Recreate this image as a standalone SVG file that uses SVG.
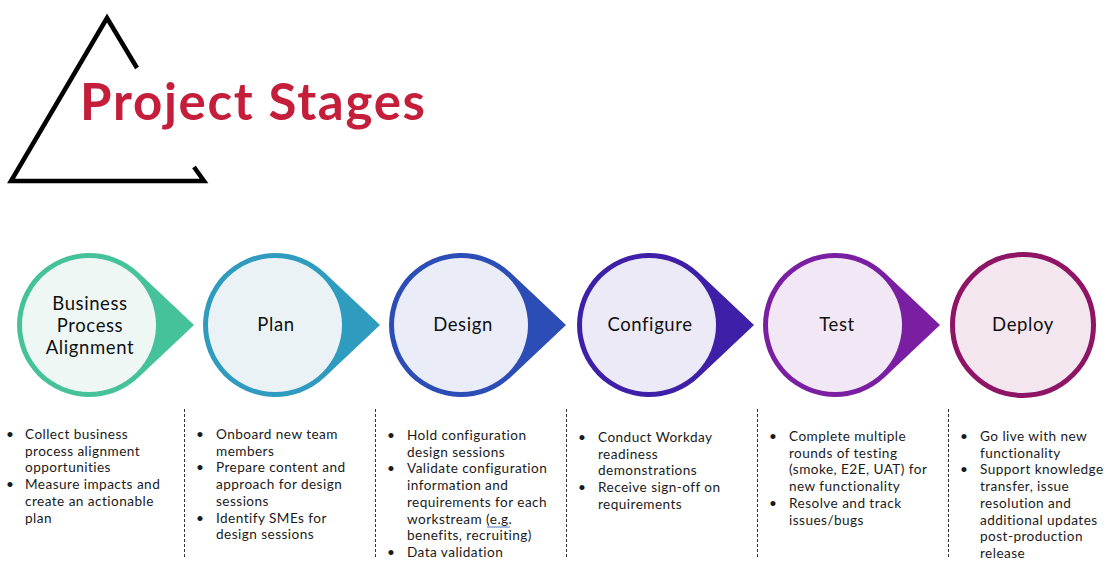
<svg xmlns="http://www.w3.org/2000/svg" width="1119" height="577" viewBox="0 0 1119 577">
<style>
.lbl{font-family:Lato,"Open Sans",sans-serif;font-size:18.5px;fill:#111;text-anchor:middle;letter-spacing:0.6px}
.bt{font-family:Lato,"Open Sans",sans-serif;font-size:13.6px;fill:#1a1a1a;letter-spacing:0.45px}
.div{stroke:#333;stroke-width:1;stroke-dasharray:3 2;fill:none}
.tri{stroke:#000;stroke-width:4.5;fill:none;stroke-linejoin:miter}
</style>
<rect width="1119" height="577" fill="#fff"/>
<g id="title">
<path class="tri" d="M137,68 L107,18 L11,181 L204,181 L194,167"/>
<text x="80" y="120" font-family="Lato,'Open Sans',sans-serif" font-weight="700" font-size="51" fill="#C41E3A" textLength="345" lengthAdjust="spacing">Project Stages</text>
</g>
<g id="connectors"></g>
<g id="node-bpa">
<path d="M138.4,272.6 L194,325 L138.4,377.4 A72 72 0 1 1 138.4,272.6 Z" fill="#45C29A"/>
<circle cx="89" cy="325" r="67" fill="#EEF7F4"/>
<text class="lbl" x="90" y="310">Business</text>
<text class="lbl" x="90" y="332">Process</text>
<text class="lbl" x="90" y="354">Alignment</text>
</g>
<g id="node-plan">
<path d="M324.4,272.6 L380,325 L324.4,377.4 A72 72 0 1 1 324.4,272.6 Z" fill="#2E9BBF"/>
<circle cx="275" cy="325" r="67" fill="#EAF2F6"/>
<text class="lbl" x="276" y="331">Plan</text>
</g>
<g id="node-design">
<path d="M510.4,272.6 L566,325 L510.4,377.4 A72 72 0 1 1 510.4,272.6 Z" fill="#2B4DB5"/>
<circle cx="461" cy="325" r="67" fill="#EAEDF7"/>
<text class="lbl" x="463" y="331">Design</text>
</g>
<g id="node-configure">
<path d="M698.4,272.6 L754,325 L698.4,377.4 A72 72 0 1 1 698.4,272.6 Z" fill="#3E1FA8"/>
<circle cx="649" cy="325" r="67" fill="#ECEAF6"/>
<text class="lbl" x="650" y="331">Configure</text>
</g>
<g id="node-test">
<path d="M884.4,272.6 L940,325 L884.4,377.4 A72 72 0 1 1 884.4,272.6 Z" fill="#7A1FA2"/>
<circle cx="835" cy="325" r="67" fill="#F2E7F4"/>
<text class="lbl" x="837" y="331">Test</text>
</g>
<g id="node-deploy">
<circle cx="1023" cy="325" r="70.5" fill="#F4E6EE" stroke="#8E1466" stroke-width="5"/>
<text class="lbl" x="1023" y="331">Deploy</text>
</g>
<g id="dividers">
<line class="div" x1="184.5" y1="409" x2="184.5" y2="557"/>
<line class="div" x1="375.5" y1="409" x2="375.5" y2="557"/>
<line class="div" x1="566.5" y1="409" x2="566.5" y2="557"/>
<line class="div" x1="757.5" y1="409" x2="757.5" y2="557"/>
<line class="div" x1="948.5" y1="409" x2="948.5" y2="557"/>
</g>
<g id="text-bpa" class="bt">
<text x="6" y="439">•</text>
<text x="25" y="439">Collect business</text>
<text x="25" y="455.7">process alignment</text>
<text x="25" y="472.4">opportunities</text>
<text x="6" y="489.1">•</text>
<text x="25" y="489.1">Measure impacts and</text>
<text x="25" y="505.8">create an actionable</text>
<text x="25" y="522.5">plan</text>
</g>
<g id="text-plan" class="bt">
<text x="196" y="439">•</text>
<text x="216" y="439">Onboard new team</text>
<text x="216" y="455.7">members</text>
<text x="196" y="472.4">•</text>
<text x="216" y="472.4">Prepare content and</text>
<text x="216" y="489.1">approach for design</text>
<text x="216" y="505.8">sessions</text>
<text x="196" y="522.5">•</text>
<text x="216" y="522.5">Identify SMEs for</text>
<text x="216" y="539.2">design sessions</text>
</g>
<g id="text-design" class="bt">
<text x="387" y="440">•</text>
<text x="407" y="440">Hold configuration</text>
<text x="407" y="456.7">design sessions</text>
<text x="387" y="473.4">•</text>
<text x="407" y="473.4">Validate configuration</text>
<text x="407" y="490.1">information and</text>
<text x="407" y="506.8">requirements for each</text>
<text x="407" y="523.5">workstream (e.g.</text>
<text x="407" y="540.2">benefits, recruiting)</text>
<text x="387" y="556.9">•</text>
<text x="407" y="556.9">Data validation</text>
<path d="M487,527 L510,527" stroke="#4472C4" stroke-width="1" fill="none"/>
</g>
<g id="text-configure" class="bt">
<text x="578" y="442">•</text>
<text x="598" y="442">Conduct Workday</text>
<text x="598" y="458.7">readiness</text>
<text x="598" y="475.4">demonstrations</text>
<text x="578" y="492.1">•</text>
<text x="598" y="492.1">Receive sign-off on</text>
<text x="598" y="508.8">requirements</text>
</g>
<g id="text-test" class="bt">
<text x="769" y="441">•</text>
<text x="789" y="441">Complete multiple</text>
<text x="789" y="457.7">rounds of testing</text>
<text x="789" y="474.4">(smoke, E2E, UAT) for</text>
<text x="789" y="491.1">new functionality</text>
<text x="769" y="507.8">•</text>
<text x="789" y="507.8">Resolve and track</text>
<text x="789" y="524.5">issues/bugs</text>
</g>
<g id="text-deploy" class="bt">
<text x="960" y="441">•</text>
<text x="980" y="441">Go live with new</text>
<text x="980" y="457.7">functionality</text>
<text x="960" y="474.4">•</text>
<text x="980" y="474.4">Support knowledge</text>
<text x="980" y="491.1">transfer, issue</text>
<text x="980" y="507.8">resolution and</text>
<text x="980" y="524.5">additional updates</text>
<text x="980" y="541.2">post-production</text>
<text x="980" y="557.9">release</text>
</g>
</svg>
